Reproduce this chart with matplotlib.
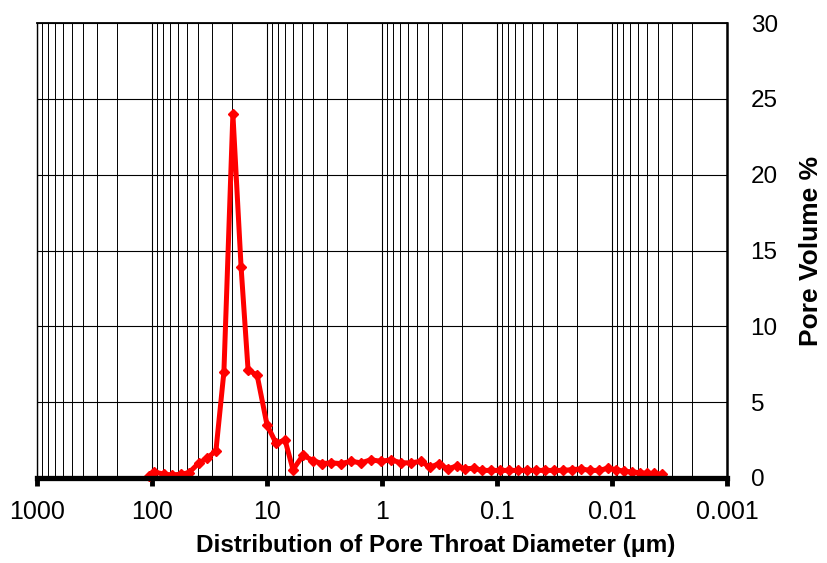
import matplotlib.pyplot as plt
from matplotlib.ticker import FixedLocator, LogLocator, NullFormatter

plt.rcParams["font.family"] = ["Liberation Sans", "DejaVu Sans"]

# pore throat diameter (um) and incremental pore volume (%)
diameter_um = [
    106, 96, 78.6, 67, 56, 47.7, 39, 33.2, 27.8, 23.7,
    19.8, 16.8, 14.6, 12.2, 10, 8.35, 6.97, 5.94, 4.86, 3.98,
    3.32, 2.78, 2.27, 1.86, 1.52, 1.25, 1.02, 0.835, 0.684, 0.56,
    0.458, 0.383, 0.319, 0.267, 0.223, 0.19, 0.158, 0.135, 0.113, 0.094,
    0.0787, 0.0657, 0.0548, 0.0458, 0.0383, 0.0319, 0.0267, 0.0223, 0.0186, 0.0155,
    0.013, 0.0108, 0.0092, 0.0079, 0.0067, 0.0057, 0.005, 0.0043, 0.0037,
]
pore_volume = [
    0.1, 0.4, 0.25, 0.2, 0.25, 0.35, 1.0, 1.3, 1.8, 7.0,
    24.0, 13.9, 7.1, 6.8, 3.5, 2.3, 2.5, 0.55, 1.5, 1.15,
    0.95, 1.0, 0.95, 1.1, 1.0, 1.2, 1.1, 1.2, 1.0, 1.0,
    1.1, 0.7, 0.95, 0.6, 0.8, 0.6, 0.65, 0.5, 0.5, 0.5,
    0.5, 0.5, 0.5, 0.5, 0.5, 0.5, 0.5, 0.55, 0.6, 0.5,
    0.5, 0.65, 0.55, 0.45, 0.4, 0.35, 0.3, 0.3, 0.25,
]

x_ticks = [1000, 100, 10, 1, 0.1, 0.01, 0.001]
x_tick_labels = ["1000", "100", "10", "1", "0.1", "0.01", "0.001"]
y_ticks = [0, 5, 10, 15, 20, 25, 30]

fig = plt.figure(figsize=(8.28, 5.63), dpi=100)
ax = fig.add_axes([0.0447, 0.151, 0.8333, 0.808])

ax.plot(diameter_um, pore_volume, color="#ff0000", lw=3.6,
        marker="D", markersize=5.5, zorder=3, clip_on=False)

ax.set_xscale("log")
ax.set_xlim(1000, 0.001)
ax.set_ylim(0, 30)

ax.xaxis.set_major_locator(FixedLocator(x_ticks))
ax.set_xticklabels(x_tick_labels)
ax.xaxis.set_minor_locator(LogLocator(base=10, subs=range(2, 10), numticks=20))
ax.xaxis.set_minor_formatter(NullFormatter())
ax.set_yticks(y_ticks)

ax.grid(True, which="major", axis="both", color="black", lw=0.8)
ax.grid(True, which="minor", axis="x", color="black", lw=0.7)

# value axis on the right, heavy base line at zero
ax.yaxis.tick_right()
ax.yaxis.set_label_position("right")
ax.tick_params(axis="y", which="both", length=0, pad=17, labelsize=17.5)
ax.tick_params(axis="x", which="major", direction="out", length=6, width=3.5,
               pad=10, labelsize=18)
ax.tick_params(axis="x", which="minor", length=0)

ax.spines["bottom"].set_linewidth(3.8)
ax.spines["right"].set_linewidth(1.8)
ax.spines["left"].set_linewidth(1.0)
ax.spines["top"].set_linewidth(1.3)
for s in ax.spines.values():
    s.set_zorder(4)

ax.set_xlabel("Distribution of Pore Throat Diameter (\u03bcm)",
              fontsize=17.5, fontweight="bold", labelpad=7, x=0.578)
ax.set_ylabel("Pore Volume %", fontsize=19, fontweight="bold",
              rotation=90, labelpad=15)

fig.savefig("out.png", dpi=100)
